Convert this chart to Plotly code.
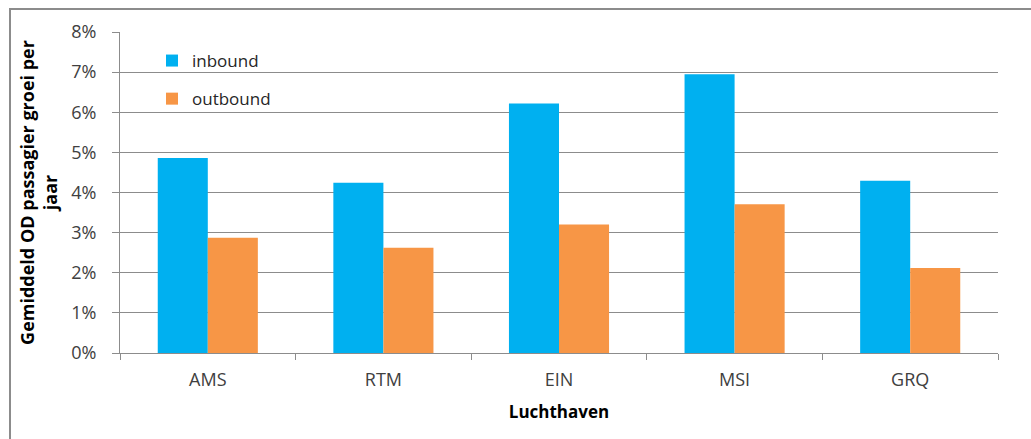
import plotly.graph_objects as go

airports = ["AMS", "RTM", "EIN", "MSI", "GRQ"]
inbound = [4.86, 4.24, 6.22, 6.95, 4.29]
outbound = [2.87, 2.62, 3.20, 3.71, 2.12]
y_ticks = [0, 1, 2, 3, 4, 5, 6, 7, 8]
y_tick_labels = [f"{v}%" for v in y_ticks]

W, H = 1031, 439
L, R, T, B = 120, 33, 32, 86
pw, ph = W - L - R, H - T - B

fig = go.Figure()
fig.add_trace(go.Bar(name="inbound", x=airports, y=inbound, marker_color="#00B0F0",
                     marker_line_width=0, legendgroup="a"))
fig.add_trace(go.Bar(name="outbound", x=airports, y=outbound, marker_color="#F79646",
                     marker_line_width=0, legendgroup="b"))

font_family = "Open Sans"
fig.update_layout(
    width=W, height=H,
    margin=dict(l=L, r=R, t=T, b=B, pad=0),
    paper_bgcolor="white", plot_bgcolor="white",
    barmode="group", bargap=0.43, bargroupgap=0,
    font=dict(family=font_family, size=16, color="#404040"),
    legend=dict(x=(152 - L) / pw, y=1 - (43 - T) / ph, xanchor="left", yanchor="top",
                bgcolor="rgba(0,0,0,0)", font=dict(size=17, color="#262626"),
                tracegroupgap=13, traceorder="grouped"),
    xaxis=dict(
        title=dict(text="<b>Luchthaven</b>", font=dict(size=17, color="#000000"), standoff=16),
        showline=True, linecolor="#8c8c8c", linewidth=1,
        ticks="outside", tickson="boundaries", ticklen=6, tickcolor="#8c8c8c",
        tickfont=dict(size=18, color="#404040"), ticklabelstandoff=10,
        showgrid=False,
    ),
    yaxis=dict(
        title=dict(text="<b>Gemiddeld OD passagier groei per<br>jaar</b>",
                   font=dict(size=18, color="#000000"), standoff=8),
        range=[0, 8], tickvals=y_ticks, ticktext=y_tick_labels,
        showline=True, linecolor="#8c8c8c", linewidth=1,
        ticks="outside", ticklen=7, tickcolor="#8c8c8c",
        showgrid=True, gridcolor="#8c8c8c", gridwidth=1,
        tickfont=dict(size=18, color="#404040"), ticklabelstandoff=12,
        zeroline=False,
    ),
)

# outer chart border (left and top edges visible in reference)
fig.add_shape(type="rect", xref="paper", yref="paper",
              x0=(10 - L) / pw, x1=(1060 - L) / pw,
              y0=1 - (460 - T) / ph, y1=1 + (T - 9) / ph,
              line=dict(color="#8c8c8c", width=2), fillcolor="rgba(0,0,0,0)", layer="below")

fig.write_html("out.html")
